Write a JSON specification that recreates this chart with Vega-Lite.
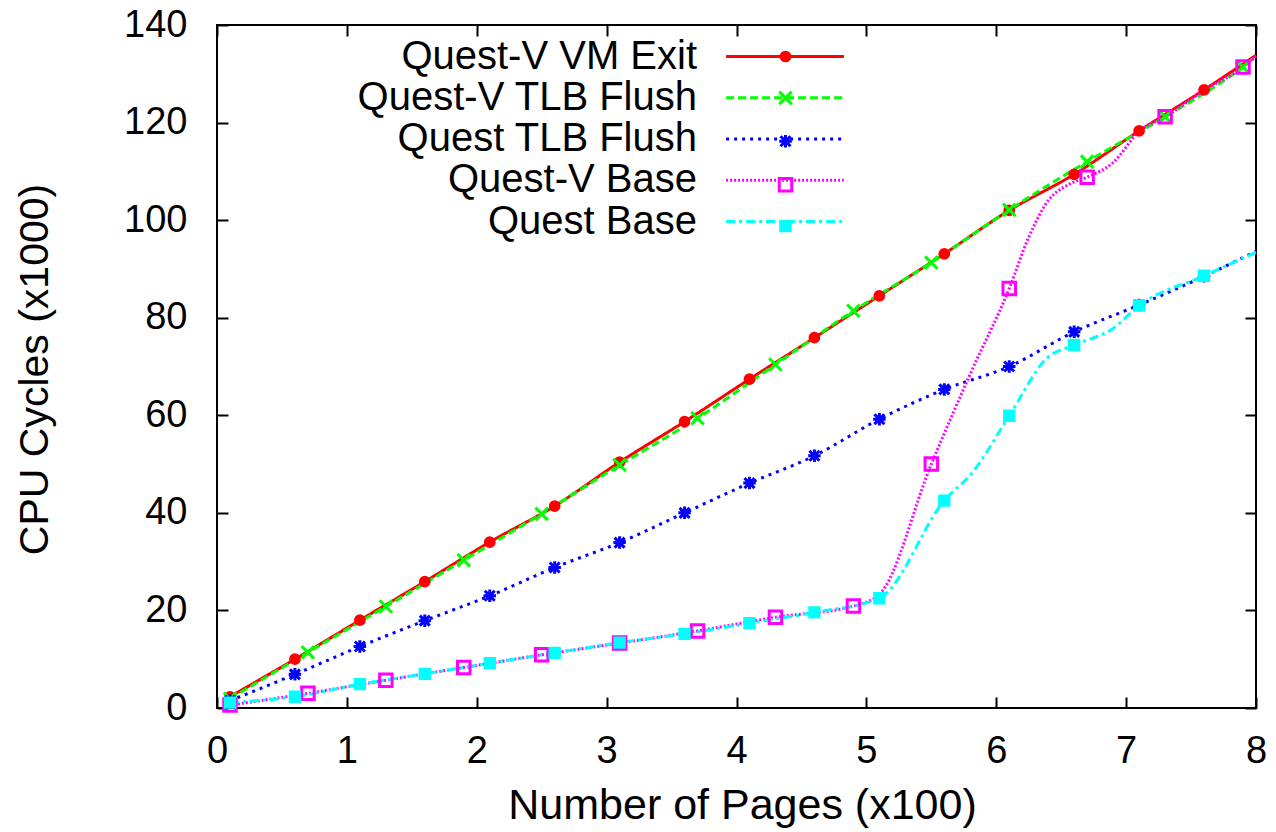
{
  "$schema": "https://vega.github.io/schema/vega-lite/v6.json",
  "width": 1039,
  "height": 683,
  "autosize": {"type": "none"},
  "padding": {"left": 217, "top": 25, "right": 20, "bottom": 124},
  "background": "white",
  "config": {
    "font": "Liberation Sans",
    "view": {"stroke": "black", "strokeWidth": 2},
    "axis": {
      "grid": false,
      "domain": false,
      "tickColor": "black",
      "tickWidth": 2,
      "tickSize": -11,
      "labelColor": "black",
      "titleColor": "black",
      "labelFont": "Liberation Sans",
      "titleFont": "Liberation Sans",
      "titleFontWeight": "normal",
      "labelFlush": false,
      "labelOverlap": false
    },
    "legend": {"symbolFillColor": "transparent", "labelFont": "Liberation Sans", "labelColor": "black"}
  },
  "datasets": {
    "curves": [
      {"pages": 0.1, "cycles": 2.3, "series": "Quest-V VM Exit"},
      {"pages": 0.6, "cycles": 10.0, "series": "Quest-V VM Exit"},
      {"pages": 1.1, "cycles": 18.0, "series": "Quest-V VM Exit"},
      {"pages": 1.6, "cycles": 25.9, "series": "Quest-V VM Exit"},
      {"pages": 2.1, "cycles": 34.0, "series": "Quest-V VM Exit"},
      {"pages": 2.6, "cycles": 41.4, "series": "Quest-V VM Exit"},
      {"pages": 3.1, "cycles": 50.4, "series": "Quest-V VM Exit"},
      {"pages": 3.6, "cycles": 58.7, "series": "Quest-V VM Exit"},
      {"pages": 4.1, "cycles": 67.4, "series": "Quest-V VM Exit"},
      {"pages": 4.6, "cycles": 75.9, "series": "Quest-V VM Exit"},
      {"pages": 5.1, "cycles": 84.5, "series": "Quest-V VM Exit"},
      {"pages": 5.6, "cycles": 93.1, "series": "Quest-V VM Exit"},
      {"pages": 6.1, "cycles": 102.0, "series": "Quest-V VM Exit"},
      {"pages": 6.6, "cycles": 109.4, "series": "Quest-V VM Exit"},
      {"pages": 7.1, "cycles": 118.3, "series": "Quest-V VM Exit"},
      {"pages": 7.6, "cycles": 126.7, "series": "Quest-V VM Exit"},
      {"pages": 8.0, "cycles": 133.8, "series": "Quest-V VM Exit"},

      {"pages": 0.1, "cycles": 1.9, "series": "Quest-V TLB Flush"},
      {"pages": 0.7, "cycles": 11.4, "series": "Quest-V TLB Flush"},
      {"pages": 1.3, "cycles": 20.8, "series": "Quest-V TLB Flush"},
      {"pages": 1.9, "cycles": 30.3, "series": "Quest-V TLB Flush"},
      {"pages": 2.5, "cycles": 39.8, "series": "Quest-V TLB Flush"},
      {"pages": 3.1, "cycles": 49.8, "series": "Quest-V TLB Flush"},
      {"pages": 3.7, "cycles": 59.4, "series": "Quest-V TLB Flush"},
      {"pages": 4.3, "cycles": 70.4, "series": "Quest-V TLB Flush"},
      {"pages": 4.9, "cycles": 81.4, "series": "Quest-V TLB Flush"},
      {"pages": 5.5, "cycles": 91.3, "series": "Quest-V TLB Flush"},
      {"pages": 6.1, "cycles": 102.1, "series": "Quest-V TLB Flush"},
      {"pages": 6.7, "cycles": 112.0, "series": "Quest-V TLB Flush"},
      {"pages": 7.3, "cycles": 121.2, "series": "Quest-V TLB Flush"},
      {"pages": 7.9, "cycles": 131.4, "series": "Quest-V TLB Flush"},
      {"pages": 8.0, "cycles": 133.5, "series": "Quest-V TLB Flush"},

      {"pages": 0.1, "cycles": 1.5, "series": "Quest TLB Flush"},
      {"pages": 0.6, "cycles": 6.9, "series": "Quest TLB Flush"},
      {"pages": 1.1, "cycles": 12.6, "series": "Quest TLB Flush"},
      {"pages": 1.6, "cycles": 17.9, "series": "Quest TLB Flush"},
      {"pages": 2.1, "cycles": 23.0, "series": "Quest TLB Flush"},
      {"pages": 2.6, "cycles": 28.8, "series": "Quest TLB Flush"},
      {"pages": 3.1, "cycles": 33.9, "series": "Quest TLB Flush"},
      {"pages": 3.6, "cycles": 40.0, "series": "Quest TLB Flush"},
      {"pages": 4.1, "cycles": 46.1, "series": "Quest TLB Flush"},
      {"pages": 4.6, "cycles": 51.7, "series": "Quest TLB Flush"},
      {"pages": 5.1, "cycles": 59.2, "series": "Quest TLB Flush"},
      {"pages": 5.6, "cycles": 65.3, "series": "Quest TLB Flush"},
      {"pages": 6.1, "cycles": 70.0, "series": "Quest TLB Flush"},
      {"pages": 6.6, "cycles": 77.1, "series": "Quest TLB Flush"},
      {"pages": 7.1, "cycles": 82.6, "series": "Quest TLB Flush"},
      {"pages": 7.6, "cycles": 88.5, "series": "Quest TLB Flush"},
      {"pages": 8.0, "cycles": 93.6, "series": "Quest TLB Flush"},

      {"pages": 0.1, "cycles": 0.6, "series": "Quest-V Base"},
      {"pages": 0.7, "cycles": 3.0, "series": "Quest-V Base"},
      {"pages": 1.3, "cycles": 5.7, "series": "Quest-V Base"},
      {"pages": 1.9, "cycles": 8.3, "series": "Quest-V Base"},
      {"pages": 2.5, "cycles": 10.9, "series": "Quest-V Base"},
      {"pages": 3.1, "cycles": 13.3, "series": "Quest-V Base"},
      {"pages": 3.7, "cycles": 15.8, "series": "Quest-V Base"},
      {"pages": 4.3, "cycles": 18.6, "series": "Quest-V Base"},
      {"pages": 4.9, "cycles": 20.9, "series": "Quest-V Base"},
      {"pages": 5.1, "cycles": 23.3, "series": "Quest-V Base"},
      {"pages": 5.5, "cycles": 50.0, "series": "Quest-V Base"},
      {"pages": 5.8, "cycles": 68.5, "series": "Quest-V Base"},
      {"pages": 6.1, "cycles": 86.0, "series": "Quest-V Base"},
      {"pages": 6.25, "cycles": 96.5, "series": "Quest-V Base"},
      {"pages": 6.4, "cycles": 104.0, "series": "Quest-V Base"},
      {"pages": 6.55, "cycles": 107.2, "series": "Quest-V Base"},
      {"pages": 6.7, "cycles": 108.8, "series": "Quest-V Base"},
      {"pages": 6.9, "cycles": 111.8, "series": "Quest-V Base"},
      {"pages": 7.1, "cycles": 118.2, "series": "Quest-V Base"},
      {"pages": 7.3, "cycles": 121.2, "series": "Quest-V Base"},
      {"pages": 7.6, "cycles": 126.6, "series": "Quest-V Base"},
      {"pages": 7.9, "cycles": 131.4, "series": "Quest-V Base"},
      {"pages": 8.0, "cycles": 133.6, "series": "Quest-V Base"},

      {"pages": 0.1, "cycles": 1.1, "series": "Quest Base"},
      {"pages": 0.6, "cycles": 2.3, "series": "Quest Base"},
      {"pages": 1.1, "cycles": 4.9, "series": "Quest Base"},
      {"pages": 1.6, "cycles": 7.0, "series": "Quest Base"},
      {"pages": 2.1, "cycles": 9.2, "series": "Quest Base"},
      {"pages": 2.6, "cycles": 11.3, "series": "Quest Base"},
      {"pages": 3.1, "cycles": 13.4, "series": "Quest Base"},
      {"pages": 3.6, "cycles": 15.2, "series": "Quest Base"},
      {"pages": 4.1, "cycles": 17.4, "series": "Quest Base"},
      {"pages": 4.6, "cycles": 19.6, "series": "Quest Base"},
      {"pages": 5.1, "cycles": 22.5, "series": "Quest Base"},
      {"pages": 5.6, "cycles": 42.5, "series": "Quest Base"},
      {"pages": 5.82, "cycles": 48.4, "series": "Quest Base"},
      {"pages": 6.1, "cycles": 59.9, "series": "Quest Base"},
      {"pages": 6.39, "cycles": 71.7, "series": "Quest Base"},
      {"pages": 6.6, "cycles": 74.4, "series": "Quest Base"},
      {"pages": 6.9, "cycles": 77.8, "series": "Quest Base"},
      {"pages": 7.1, "cycles": 82.5, "series": "Quest Base"},
      {"pages": 7.6, "cycles": 88.6, "series": "Quest Base"},
      {"pages": 8.0, "cycles": 93.4, "series": "Quest Base"}
    ],
    "markers": [
      {"pages": 0.1, "cycles": 2.3, "label": "Quest-V VM Exit"},
      {"pages": 0.6, "cycles": 10.0, "label": "Quest-V VM Exit"},
      {"pages": 1.1, "cycles": 18.0, "label": "Quest-V VM Exit"},
      {"pages": 1.6, "cycles": 25.9, "label": "Quest-V VM Exit"},
      {"pages": 2.1, "cycles": 34.0, "label": "Quest-V VM Exit"},
      {"pages": 2.6, "cycles": 41.4, "label": "Quest-V VM Exit"},
      {"pages": 3.1, "cycles": 50.4, "label": "Quest-V VM Exit"},
      {"pages": 3.6, "cycles": 58.7, "label": "Quest-V VM Exit"},
      {"pages": 4.1, "cycles": 67.4, "label": "Quest-V VM Exit"},
      {"pages": 4.6, "cycles": 75.9, "label": "Quest-V VM Exit"},
      {"pages": 5.1, "cycles": 84.5, "label": "Quest-V VM Exit"},
      {"pages": 5.6, "cycles": 93.1, "label": "Quest-V VM Exit"},
      {"pages": 6.1, "cycles": 102.0, "label": "Quest-V VM Exit"},
      {"pages": 6.6, "cycles": 109.4, "label": "Quest-V VM Exit"},
      {"pages": 7.1, "cycles": 118.3, "label": "Quest-V VM Exit"},
      {"pages": 7.6, "cycles": 126.7, "label": "Quest-V VM Exit"},

      {"pages": 0.1, "cycles": 1.9, "label": "Quest-V TLB Flush"},
      {"pages": 0.7, "cycles": 11.4, "label": "Quest-V TLB Flush"},
      {"pages": 1.3, "cycles": 20.8, "label": "Quest-V TLB Flush"},
      {"pages": 1.9, "cycles": 30.3, "label": "Quest-V TLB Flush"},
      {"pages": 2.5, "cycles": 39.8, "label": "Quest-V TLB Flush"},
      {"pages": 3.1, "cycles": 49.8, "label": "Quest-V TLB Flush"},
      {"pages": 3.7, "cycles": 59.4, "label": "Quest-V TLB Flush"},
      {"pages": 4.3, "cycles": 70.4, "label": "Quest-V TLB Flush"},
      {"pages": 4.9, "cycles": 81.4, "label": "Quest-V TLB Flush"},
      {"pages": 5.5, "cycles": 91.3, "label": "Quest-V TLB Flush"},
      {"pages": 6.1, "cycles": 102.1, "label": "Quest-V TLB Flush"},
      {"pages": 6.7, "cycles": 112.0, "label": "Quest-V TLB Flush"},
      {"pages": 7.3, "cycles": 121.2, "label": "Quest-V TLB Flush"},
      {"pages": 7.9, "cycles": 131.4, "label": "Quest-V TLB Flush"},

      {"pages": 0.1, "cycles": 1.5, "label": "Quest TLB Flush"},
      {"pages": 0.6, "cycles": 6.9, "label": "Quest TLB Flush"},
      {"pages": 1.1, "cycles": 12.6, "label": "Quest TLB Flush"},
      {"pages": 1.6, "cycles": 17.9, "label": "Quest TLB Flush"},
      {"pages": 2.1, "cycles": 23.0, "label": "Quest TLB Flush"},
      {"pages": 2.6, "cycles": 28.8, "label": "Quest TLB Flush"},
      {"pages": 3.1, "cycles": 33.9, "label": "Quest TLB Flush"},
      {"pages": 3.6, "cycles": 40.0, "label": "Quest TLB Flush"},
      {"pages": 4.1, "cycles": 46.1, "label": "Quest TLB Flush"},
      {"pages": 4.6, "cycles": 51.7, "label": "Quest TLB Flush"},
      {"pages": 5.1, "cycles": 59.2, "label": "Quest TLB Flush"},
      {"pages": 5.6, "cycles": 65.3, "label": "Quest TLB Flush"},
      {"pages": 6.1, "cycles": 70.0, "label": "Quest TLB Flush"},
      {"pages": 6.6, "cycles": 77.1, "label": "Quest TLB Flush"},
      {"pages": 7.1, "cycles": 82.6, "label": "Quest TLB Flush"},
      {"pages": 7.6, "cycles": 88.5, "label": "Quest TLB Flush"},

      {"pages": 0.1, "cycles": 0.6, "label": "Quest-V Base"},
      {"pages": 0.7, "cycles": 3.0, "label": "Quest-V Base"},
      {"pages": 1.3, "cycles": 5.7, "label": "Quest-V Base"},
      {"pages": 1.9, "cycles": 8.3, "label": "Quest-V Base"},
      {"pages": 2.5, "cycles": 10.9, "label": "Quest-V Base"},
      {"pages": 3.1, "cycles": 13.3, "label": "Quest-V Base"},
      {"pages": 3.7, "cycles": 15.8, "label": "Quest-V Base"},
      {"pages": 4.3, "cycles": 18.6, "label": "Quest-V Base"},
      {"pages": 4.9, "cycles": 20.9, "label": "Quest-V Base"},
      {"pages": 5.5, "cycles": 50.0, "label": "Quest-V Base"},
      {"pages": 6.1, "cycles": 86.0, "label": "Quest-V Base"},
      {"pages": 6.7, "cycles": 108.8, "label": "Quest-V Base"},
      {"pages": 7.3, "cycles": 121.2, "label": "Quest-V Base"},
      {"pages": 7.9, "cycles": 131.4, "label": "Quest-V Base"},

      {"pages": 0.1, "cycles": 1.1, "label": "Quest Base"},
      {"pages": 0.6, "cycles": 2.3, "label": "Quest Base"},
      {"pages": 1.1, "cycles": 4.9, "label": "Quest Base"},
      {"pages": 1.6, "cycles": 7.0, "label": "Quest Base"},
      {"pages": 2.1, "cycles": 9.2, "label": "Quest Base"},
      {"pages": 2.6, "cycles": 11.3, "label": "Quest Base"},
      {"pages": 3.1, "cycles": 13.4, "label": "Quest Base"},
      {"pages": 3.6, "cycles": 15.2, "label": "Quest Base"},
      {"pages": 4.1, "cycles": 17.4, "label": "Quest Base"},
      {"pages": 4.6, "cycles": 19.6, "label": "Quest Base"},
      {"pages": 5.1, "cycles": 22.5, "label": "Quest Base"},
      {"pages": 5.6, "cycles": 42.5, "label": "Quest Base"},
      {"pages": 6.1, "cycles": 59.9, "label": "Quest Base"},
      {"pages": 6.6, "cycles": 74.4, "label": "Quest Base"},
      {"pages": 7.1, "cycles": 82.5, "label": "Quest Base"},
      {"pages": 7.6, "cycles": 88.6, "label": "Quest Base"}
    ]
  },
  "layer": [
    {
      "data": {"name": "curves"},
      "mark": {"type": "line", "strokeWidth": 3, "interpolate": "monotone", "strokeCap": "butt"},
      "encoding": {
        "x": {
          "field": "pages", "type": "quantitative",
          "scale": {"domain": [0, 8], "nice": false, "zero": false},
          "axis": {
            "orient": "bottom", "values": [0, 1, 2, 3, 4, 5, 6, 7, 8],
            "labelFontSize": 38, "labelPadding": 35,
            "title": "Number of Pages (x100)", "titleFontSize": 43,
            "titleX": 525, "titleY": 97, "titleBaseline": "middle", "titleAlign": "center", "titleAngle": 0
          }
        },
        "y": {
          "field": "cycles", "type": "quantitative",
          "scale": {"domain": [0, 140], "nice": false},
          "axis": {
            "orient": "left", "values": [0, 20, 40, 60, 80, 100, 120, 140],
            "labelFontSize": 38, "labelPadding": 41,
            "title": "CPU Cycles (x1000)", "titleFontSize": 41,
            "titleX": -182, "titleY": 344, "titleBaseline": "middle", "titleAlign": "center", "titleAngle": -90
          }
        },
        "stroke": {
          "field": "series", "type": "nominal", "sort": null,
          "scale": {
            "range": ["#ff0000", "#00ff00", "#0000ff", "#ff00ff", "#00ffff"]
          },
          "legend": {
            "orient": "none", "legendX": 547.5, "legendY": 11, "title": null, "padding": 0,
            "symbolType": "M-3.1,0L3.1,0", "symbolSize": 1444, "symbolStrokeWidth": 3,
            "labelFontSize": 40, "labelAlign": "right", "labelBaseline": "middle", "labelOffset": -108.5, "labelLimit": 800,
            "rowPadding": 0.25
          }
        },
        "strokeDash": {
          "field": "series", "type": "nominal", "sort": null,
          "scale": {
            "range": [[1, 0], [8, 4], [3, 5], [2, 2], [9, 4, 3, 4]]
          },
          "legend": {
            "orient": "none", "legendX": 547.5, "legendY": 11, "title": null, "padding": 0,
            "symbolType": "M-3.1,0L3.1,0", "symbolSize": 1444, "symbolStrokeWidth": 3,
            "labelFontSize": 40, "labelAlign": "right", "labelBaseline": "middle", "labelOffset": -108.5, "labelLimit": 800,
            "rowPadding": 0.25
          }
        }
      }
    },
    {
      "data": {"name": "markers"},
      "mark": {"type": "point", "filled": false, "strokeWidth": 3, "size": 156, "opacity": 1},
      "encoding": {
        "x": {
          "field": "pages", "type": "quantitative",
          "axis": {"orient": "top", "values": [0, 1, 2, 3, 4, 5, 6, 7, 8], "labels": false, "title": null}
        },
        "y": {
          "field": "cycles", "type": "quantitative",
          "axis": {"orient": "right", "values": [0, 20, 40, 60, 80, 100, 120, 140], "labels": false, "title": null}
        },
        "color": {
          "field": "label", "type": "nominal",
          "scale": {
            "domain": ["Quest-V VM Exit", "Quest-V TLB Flush", "Quest TLB Flush", "Quest-V Base", "Quest Base"],
            "range": ["#ff0000", "#00ff00", "#0000ff", "#ff00ff", "#00ffff"]
          },
          "legend": {
            "orient": "none", "legendX": 560.5, "legendY": 23.5, "title": null, "padding": 0,
            "labelExpr": "''", "labelFontSize": 1, "symbolSize": 156, "symbolStrokeWidth": 3, "symbolOpacity": 1,
            "rowPadding": 17.4
          }
        },
        "fill": {
          "field": "label", "type": "nominal",
          "scale": {
            "domain": ["Quest-V VM Exit", "Quest-V TLB Flush", "Quest TLB Flush", "Quest-V Base", "Quest Base"],
            "range": ["#ff0000", "transparent", "#0000ff", "transparent", "#00ffff"]
          },
          "legend": {
            "orient": "none", "legendX": 560.5, "legendY": 23.5, "title": null, "padding": 0,
            "labelExpr": "''", "labelFontSize": 1, "symbolSize": 156, "symbolStrokeWidth": 3, "symbolOpacity": 1,
            "rowPadding": 17.4
          }
        },
        "shape": {
          "field": "label", "type": "nominal",
          "scale": {
            "domain": ["Quest-V VM Exit", "Quest-V TLB Flush", "Quest TLB Flush", "Quest-V Base", "Quest Base"],
            "range": [
              "M0.7,0A0.7,0.7 0 1,1 -0.7,0A0.7,0.7 0 1,1 0.7,0Z",
              "M-1,-1L1,1M1,-1L-1,1",
              "M-1,0L1,0M0,-1L0,1M-0.8,-0.8L0.8,0.8M0.8,-0.8L-0.8,0.8",
              "square",
              "M-0.75,-0.75L0.75,-0.75L0.75,0.75L-0.75,0.75Z"
            ]
          },
          "legend": {
            "orient": "none", "legendX": 560.5, "legendY": 23.5, "title": null, "padding": 0,
            "labelExpr": "''", "labelFontSize": 1, "symbolSize": 156, "symbolStrokeWidth": 3, "symbolOpacity": 1,
            "rowPadding": 17.4
          }
        }
      }
    }
  ],
  "resolve": {"axis": {"x": "independent", "y": "independent"}}
}
